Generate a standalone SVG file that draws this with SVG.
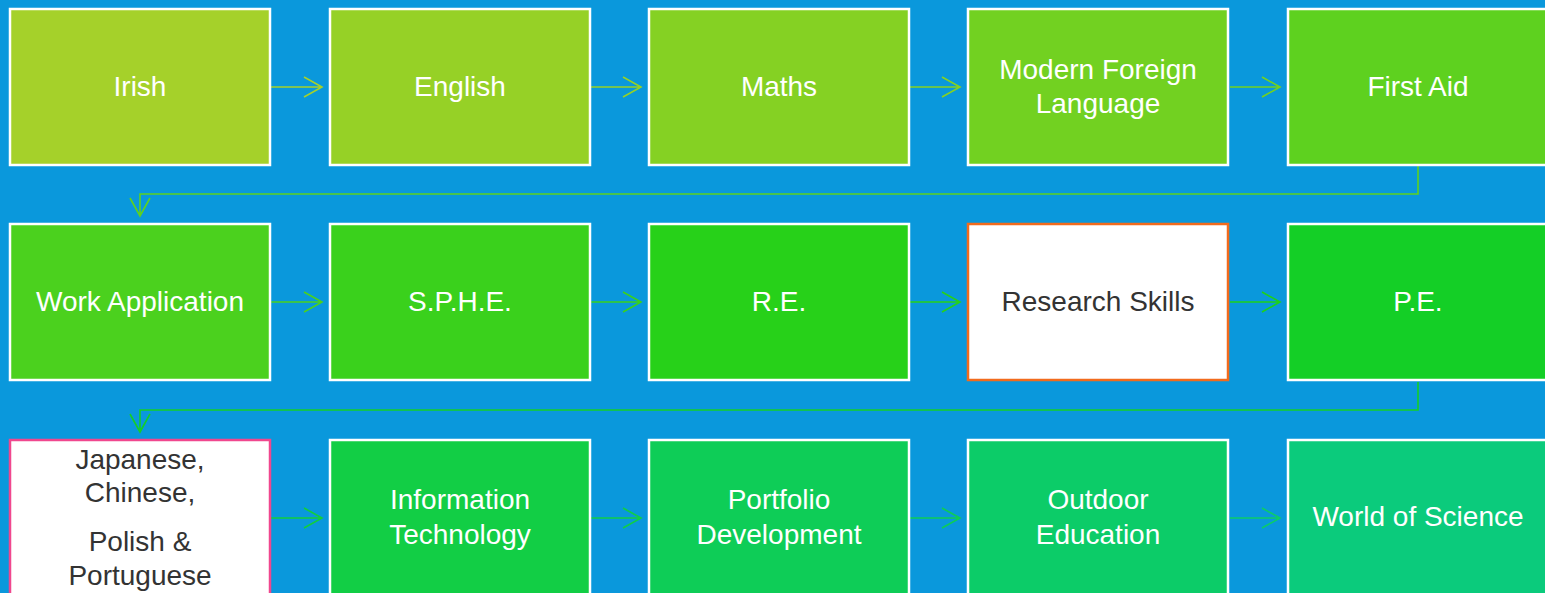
<svg xmlns="http://www.w3.org/2000/svg" width="1545" height="593" viewBox="0 0 1545 593">
<style>
.box{stroke:#fff;stroke-width:2.5}
.t{font-family:"Liberation Sans","Open Sans",sans-serif;font-size:28px;fill:#fff;text-anchor:middle}
.d{fill:#333}
.c{fill:none;stroke-width:1.6}
</style>
<rect width="1545" height="593" fill="#0A98DC"/>
<g id="connectors">
<path class="c" stroke="#A5D12A" d="M271 87H322M304 77L322 87L304 97"/>
<path class="c" stroke="#96D126" d="M591 87H641M623 77L641 87L623 97"/>
<path class="c" stroke="#85D123" d="M910 87H960M942 77L960 87L942 97"/>
<path class="c" stroke="#72D121" d="M1230 87H1280M1262 77L1280 87L1262 97"/>
<path class="c" stroke="#5ED11F" d="M1418 166V194H140V216M130 198L140 216L150 198"/>
<path class="c" stroke="#4BD11E" d="M271 302H322M304 292L322 302L304 312"/>
<path class="c" stroke="#3AD11C" d="M591 302H641M623 292L641 302L623 312"/>
<path class="c" stroke="#27D119" d="M910 302H960M942 292L960 302L942 312"/>
<path class="c" stroke="#1ED11A" d="M1230 302H1280M1262 292L1280 302L1262 312"/>
<path class="c" stroke="#14CF26" d="M1418 382V410H140V432M130 414L140 432L150 414"/>
<path class="c" stroke="#12CE3C" d="M271 518H322M304 508L322 518L304 528"/>
<path class="c" stroke="#10CE46" d="M591 518H641M623 508L641 518L623 528"/>
<path class="c" stroke="#0ECD55" d="M910 518H960M942 508L960 518L942 528"/>
<path class="c" stroke="#0CCC68" d="M1230 518H1280M1262 508L1280 518L1262 528"/>
</g>
<g id="irish"><rect class="box" x="10" y="9" width="260" height="156" fill="#A5D12A"/><text class="t" x="140" y="96">Irish</text></g>
<g id="english"><rect class="box" x="330" y="9" width="260" height="156" fill="#96D126"/><text class="t" x="460" y="96">English</text></g>
<g id="maths"><rect class="box" x="649" y="9" width="260" height="156" fill="#85D123"/><text class="t" x="779" y="96">Maths</text></g>
<g id="mfl"><rect class="box" x="968" y="9" width="260" height="156" fill="#72D121"/><text class="t" x="1098" y="79">Modern Foreign</text><text class="t" x="1098" y="113">Language</text></g>
<g id="firstaid"><rect class="box" x="1288" y="9" width="260" height="156" fill="#5ED11F"/><text class="t" x="1418" y="96">First Aid</text></g>
<g id="workapp"><rect class="box" x="10" y="224" width="260" height="156" fill="#4BD11E"/><text class="t" x="140" y="311">Work Application</text></g>
<g id="sphe"><rect class="box" x="330" y="224" width="260" height="156" fill="#3AD11C"/><text class="t" x="460" y="311">S.P.H.E.</text></g>
<g id="re"><rect class="box" x="649" y="224" width="260" height="156" fill="#27D119"/><text class="t" x="779" y="311">R.E.</text></g>
<g id="research"><rect x="968" y="224" width="260" height="156" fill="#fff" stroke="#F26B1D" stroke-width="2.5"/><text class="t d" x="1098" y="311">Research Skills</text></g>
<g id="pe"><rect class="box" x="1288" y="224" width="260" height="156" fill="#14CF26"/><text class="t" x="1418" y="311">P.E.</text></g>
<g id="languages"><rect x="10" y="440" width="260" height="160" fill="#fff" stroke="#F0478E" stroke-width="2.5"/><text class="t d" x="140" y="469">Japanese,</text><text class="t d" x="140" y="502">Chinese,</text><text class="t d" x="140" y="551">Polish &amp;</text><text class="t d" x="140" y="585">Portuguese</text></g>
<g id="it"><rect class="box" x="330" y="440" width="260" height="160" fill="#12CE45"/><text class="t" x="460" y="509">Information</text><text class="t" x="460" y="544">Technology</text></g>
<g id="portfolio"><rect class="box" x="649" y="440" width="260" height="160" fill="#0ECD57"/><text class="t" x="779" y="509">Portfolio</text><text class="t" x="779" y="544">Development</text></g>
<g id="outdoor"><rect class="box" x="968" y="440" width="260" height="160" fill="#0CCC68"/><text class="t" x="1098" y="509">Outdoor</text><text class="t" x="1098" y="544">Education</text></g>
<g id="science"><rect class="box" x="1288" y="440" width="260" height="160" fill="#0BCB7C"/><text class="t" x="1418" y="526">World of Science</text></g>
</svg>
